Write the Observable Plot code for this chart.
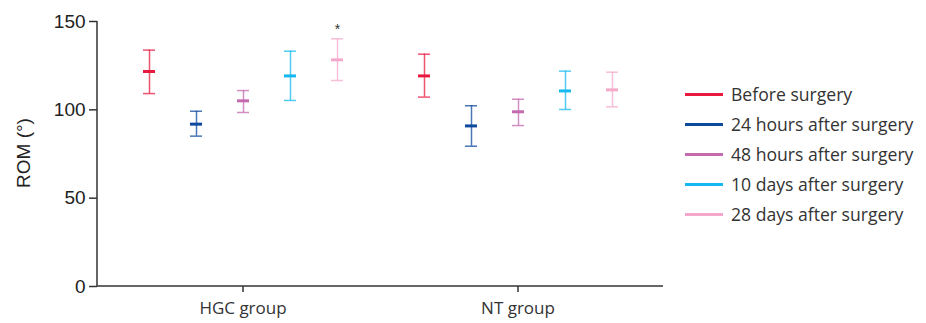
<!DOCTYPE html>
<html>
<head>
<meta charset="utf-8">
<script src="https://cdn.jsdelivr.net/npm/d3@7"></script>
<script src="https://cdn.jsdelivr.net/npm/@observablehq/plot@0.6"></script>
<style>
  body { margin: 0; background: #fff; }
  #wrap { position: relative; width: 926px; height: 323px; }
  #legend { position: absolute; left: 685px; top: 79px; font-family: "Open Sans", "Noto Sans", sans-serif; font-size: 17.6px; color: #333; }
  #legend .row { display: flex; align-items: center; height: 30px; }
  #legend .sw { width: 38px; height: 3px; margin-right: 8px; }
</style>
</head>
<body>
<div id="wrap"><div id="legend"></div></div>
<script>
const groups = ["HGC group", "NT group"];
const series = ["Before surgery", "24 hours after surgery", "48 hours after surgery", "10 days after surgery", "28 days after surgery"];
const colors = ["#e8193f", "#0d4a9e", "#c46aaf", "#16b9ef", "#f4a9cb"];
// mean, lower, upper per series for HGC and NT
const hgcMean = [121.7, 91.9, 105.1, 119.2, 128.3];
const hgcLow  = [109.2, 85.1, 98.5, 105.3, 116.6];
const hgcHigh = [133.8, 99.2, 110.9, 133.2, 140.2];
const ntMean  = [119.2, 90.9, 98.9, 110.7, 111.3];
const ntLow   = [107.2, 79.4, 91.1, 100.2, 101.7];
const ntHigh  = [131.5, 102.3, 106.0, 121.9, 121.3];
const yTicks = [0, 50, 100, 150];

const data = [];
series.forEach((s, i) => {
  data.push({group: groups[0], series: s, mean: hgcMean[i], low: hgcLow[i], high: hgcHigh[i]});
  data.push({group: groups[1], series: s, mean: ntMean[i], low: ntLow[i], high: ntHigh[i]});
});
const star = [{group: groups[0], series: series[4], y: hgcHigh[4], label: "*"}];

const W = 926, H = 323, ML = 97, MR = 263, MT = 21, MB = 37;
const fxPadOuter = 0.098, fxPadInner = 0.1395;
const fxStep = (W - ML - MR) / (groups.length - fxPadInner + 2 * fxPadOuter);
const chart = Plot.plot({
  width: W,
  height: H,
  marginLeft: ML,
  marginRight: MR,
  marginTop: MT,
  marginBottom: MB,
  style: {fontFamily: "Liberation Sans, Arial, sans-serif", overflow: "visible"},
  fx: {domain: groups, paddingInner: fxPadInner, paddingOuter: fxPadOuter, label: null},
  x: {domain: series, paddingInner: 0.747, paddingOuter: 0.3735, axis: null},
  y: {domain: [0, 150], ticks: yTicks, label: null},
  color: {domain: series, range: colors},
  marks: [
    Plot.axisFx({anchor: "bottom", tickSize: 6, tickPadding: 9, stroke: "#333", strokeWidth: 1.5, fill: "#333", label: null}),
    Plot.axisY({ticks: yTicks, tickSize: 8, tickPadding: 4, dx: -fxPadOuter * fxStep, stroke: "#333", strokeWidth: 1.5, fill: "#222", label: null}),
    Plot.ruleX(data, {fx: "group", x: "series", y1: "low", y2: "high", stroke: "series", strokeWidth: 1.5, strokeOpacity: 0.75}),
    Plot.tickY(data, {fx: "group", x: "series", y: "low", stroke: "series", strokeWidth: 1.5, strokeOpacity: 0.75}),
    Plot.tickY(data, {fx: "group", x: "series", y: "high", stroke: "series", strokeWidth: 1.5, strokeOpacity: 0.75}),
    Plot.tickY(data, {fx: "group", x: "series", y: "mean", stroke: "series", strokeWidth: 3}),
    Plot.text(star, {fx: "group", x: "series", y: "y", text: "label", dy: -9, fontSize: 14, fill: "#333"})
  ]
});
document.getElementById("wrap").prepend(chart);

const svg = d3.select(chart);
svg.selectAll('g[aria-label="y-axis tick label"]').attr("font-size", 19);
svg.selectAll('g[aria-label="fx-axis tick label"]').attr("font-size", 17)
  .attr("font-family", "'Open Sans', 'Noto Sans', sans-serif");

// axis lines drawn from the library's y scale
const ys = chart.scale("y");
const y0 = ys.apply(0), yTop = ys.apply(150);
svg.append("line").attr("x1", ML).attr("x2", ML).attr("y1", yTop).attr("y2", y0)
  .attr("stroke", "#333").attr("stroke-width", 1.5);
svg.append("line").attr("x1", ML).attr("x2", W - MR).attr("y1", y0).attr("y2", y0)
  .attr("stroke", "#333").attr("stroke-width", 1.5);

// y-axis title
svg.append("text")
  .attr("transform", "translate(30,153) rotate(-90)")
  .attr("text-anchor", "middle")
  .attr("font-size", 19)
  .attr("fill", "#222")
  .attr("font-family", "Liberation Sans, Arial, sans-serif")
  .text("ROM (°)");

const legend = d3.select("#legend");
series.forEach((s, i) => {
  const row = legend.append("div").attr("class", "row");
  row.append("div").attr("class", "sw").style("background", colors[i]);
  row.append("span").text(s);
});
</script>
</body>
</html>
